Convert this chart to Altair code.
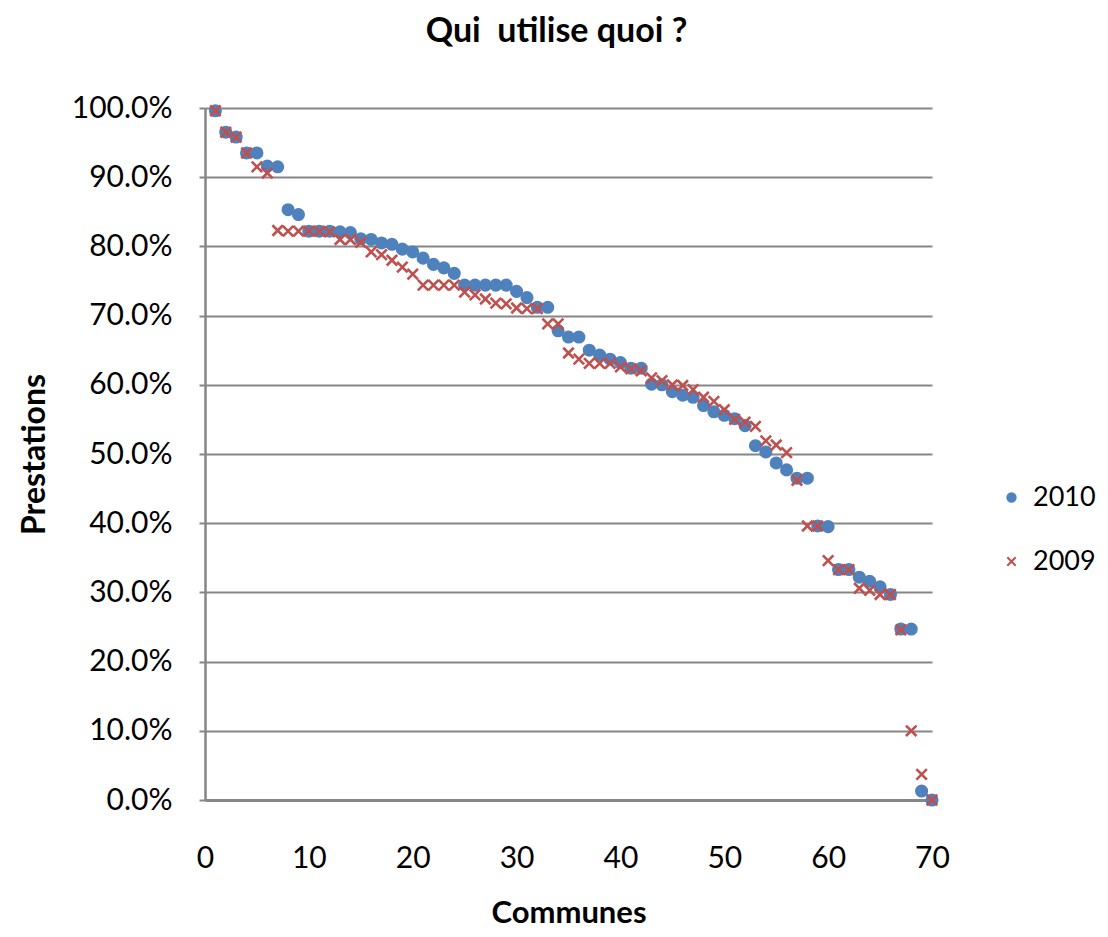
import altair as alt
import pandas as pd

communes = list(range(1, 71))

s2010 = [99.6, 96.5, 95.8, 93.5, 93.5, 91.6, 91.5, 85.3, 84.6, 82.2,
         82.2, 82.2, 82.1, 82.0, 81.1, 81.0, 80.5, 80.3, 79.6, 79.2,
         78.3, 77.4, 76.9, 76.1, 74.4, 74.4, 74.4, 74.4, 74.4, 73.5,
         72.6, 71.2, 71.2, 67.8, 66.9, 66.9, 65.0, 64.3, 63.7, 63.2,
         62.4, 62.4, 60.1, 60.0, 59.0, 58.5, 58.2, 57.0, 56.1, 55.6,
         55.1, 54.1, 51.2, 50.3, 48.7, 47.7, 46.5, 46.5, 39.6, 39.5,
         33.3, 33.3, 32.2, 31.6, 30.8, 29.7, 24.7, 24.7, 1.3, 0.0]

s2009 = [99.6, 96.5, 95.8, 93.5, 91.5, 90.6, 82.3, 82.2, 82.2, 82.2,
         82.2, 82.1, 81.0, 81.0, 80.6, 79.2, 78.8, 78.0, 77.0, 76.0,
         74.4, 74.4, 74.4, 74.4, 73.4, 73.0, 72.4, 71.8, 71.7, 71.1,
         71.0, 71.0, 68.8, 68.8, 64.6, 63.7, 63.1, 63.1, 63.1, 62.6,
         62.3, 62.0, 61.0, 60.6, 60.0, 59.9, 59.3, 58.2, 57.6, 56.4,
         55.0, 54.6, 54.0, 51.9, 51.3, 50.2, 46.2, 39.6, 39.6, 34.6,
         33.3, 33.3, 30.6, 30.3, 29.7, 29.7, 24.6, 10.0, 3.7, 0.0]

series_names = ["2010", "2009"]
x_ticks = [0, 10, 20, 30, 40, 50, 60, 70]
y_ticks = [i / 10 for i in range(11)]

rows = []
for name, vals in zip(series_names, [s2010, s2009]):
    for c, v in zip(communes, vals):
        rows.append({"Communes": c, "Prestations": v / 100.0, "Série": name})
df = pd.DataFrame(rows)

FONT = "Lato"
BLUE = "#4F81BD"
RED = "#C0504D"
GRID = "#868686"
XPATH = "M-1,-1L1,1M1,-1L-1,1"

chart = alt.Chart(df).mark_point(strokeWidth=2.6, opacity=1, size=110).encode(
    x=alt.X("Communes:Q",
            scale=alt.Scale(domain=[0, 70], nice=False, zero=False),
            axis=alt.Axis(values=x_ticks, grid=False, ticks=False,
                          labelFlush=False,
                          labelPadding=43, labelFontSize=30, labelFont=FONT,
                          labelColor="black", title="Communes",
                          titleFont=FONT, titleFontSize=31, titleFontWeight="bold",
                          titlePadding=25, domainColor=GRID, domainWidth=3)),
    y=alt.Y("Prestations:Q",
            scale=alt.Scale(domain=[0, 1], nice=False),
            axis=alt.Axis(values=y_ticks, format=".1%", grid=True,
                          labelFlush=False,
                          gridColor=GRID, gridWidth=2, tickColor=GRID,
                          tickSize=6, tickWidth=2, labelPadding=27,
                          labelFontSize=30, labelFont=FONT, labelColor="black",
                          title="Prestations", titleFont=FONT, titleFontSize=32,
                          titleFontWeight="bold", titlePadding=20,
                          domainColor=GRID, domainWidth=2.5)),
    fill=alt.Fill("Série:N", sort=series_names,
                  scale=alt.Scale(domain=series_names, range=[BLUE, "transparent"]),
                  legend=alt.Legend(title=None)),
    stroke=alt.Stroke("Série:N", sort=series_names,
                      scale=alt.Scale(domain=series_names, range=[BLUE, RED]),
                      legend=alt.Legend(title=None)),
    shape=alt.Shape("Série:N", sort=series_names,
                    scale=alt.Scale(domain=series_names, range=["circle", XPATH]),
                    legend=alt.Legend(title=None)),
).properties(
    width=727,
    height=692,
    title=alt.TitleParams("Qui\u00a0 utilise quoi ?", font=FONT, fontSize=34,
                          fontWeight="bold", color="black", offset=44, dx=-12),
    autosize=alt.AutoSizeParams(type="none"),
    padding={"left": 197, "top": 100, "right": 168, "bottom": 129},
).configure_legend(
    orient="none", legendX=793, legendY=376, labelFont=FONT, labelFontSize=27,
    labelColor="black", symbolSize=70, symbolStrokeWidth=2, rowPadding=36,
    labelOffset=8,
).configure_view(stroke=None)

chart.save("out.html", embed_options={"renderer": "svg", "actions": False})
